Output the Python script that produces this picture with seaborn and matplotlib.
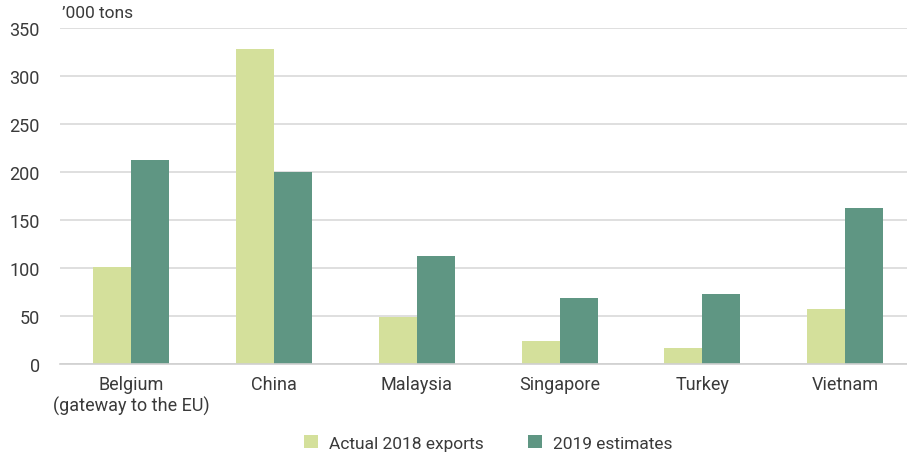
import numpy as np
import pandas as pd
import matplotlib
matplotlib.use("Agg")
import matplotlib.pyplot as plt
import seaborn as sns

categories = ["Belgium\n(gateway to the EU)", "China", "Malaysia", "Singapore", "Turkey", "Vietnam"]
actual_2018 = [101, 328, 49, 24, 17, 57]
estimates_2019 = [212, 200, 112, 69, 73, 163]
series_names = ["Actual 2018 exports", "2019 estimates"]
colors = ["#d4e09b", "#5f9683"]
yticks = [0, 50, 100, 150, 200, 250, 300, 350]

df = pd.DataFrame({
    "country": categories * 2,
    "value": actual_2018 + estimates_2019,
    "series": [series_names[0]] * len(categories) + [series_names[1]] * len(categories),
})

sns.set_theme(style="white")
plt.rcParams["font.family"] = ["Roboto", "DejaVu Sans"]
text_color = "#3a3a3a"

fig = plt.figure(figsize=(9.07, 4.56), dpi=100)
ax = fig.add_axes([60 / 907, 0.1996, 856.5 / 907, 0.7368])

sns.barplot(data=df, x="country", y="value", hue="series", palette=colors,
            width=0.533, saturation=1, ax=ax, legend=True, order=categories,
            hue_order=series_names, linewidth=0)

ax.set_ylim(0, 350)
ax.set_xlim(-0.5, len(categories) - 0.5)
ax.set_yticks(yticks)
ax.yaxis.grid(True, color="#d9d9d9", linewidth=1.2)
ax.set_axisbelow(True)
for s in ["top", "right", "left"]:
    ax.spines[s].set_visible(False)
ax.spines["bottom"].set_color("#d0d0d0")
ax.spines["bottom"].set_linewidth(1.2)

ax.set_xlabel("")
ax.set_ylabel("")
ax.tick_params(axis="y", length=0, labelsize=13, labelcolor=text_color, pad=14.5)
ax.tick_params(axis="x", which="major", length=0, labelsize=13, labelcolor=text_color, pad=8)
ax.set_xticks(np.arange(-0.5, len(categories), 1), minor=True)
ax.tick_params(axis="x", which="minor", length=7, color="#d0d0d0", width=1.2)

fig.text(62 / 907, 1 - 14 / 456, "\u2019000 tons", fontsize=12.5, color=text_color,
         ha="left", va="center")

leg = ax.legend(loc="center", bbox_to_anchor=(0.5, -79 / 336), ncol=2,
                frameon=False, fontsize=12.5, handlelength=0.8, handleheight=0.8,
                handletextpad=0.6, columnspacing=2.6, labelcolor=text_color)

fig.savefig("out.png", dpi=100)
